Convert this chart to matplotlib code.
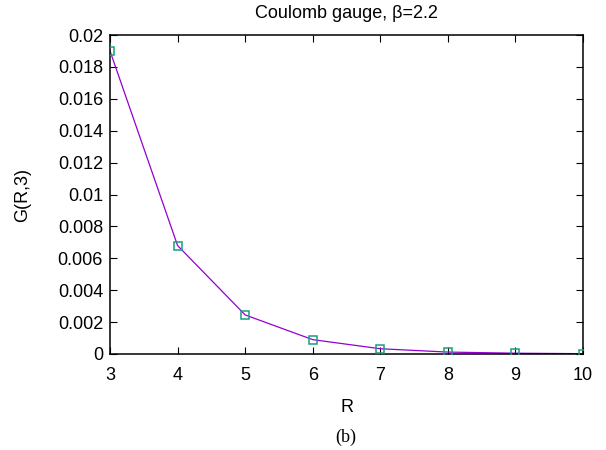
import numpy as np
import matplotlib
matplotlib.use("Agg")
import matplotlib.pyplot as plt

plt.rcParams['font.family'] = ['Liberation Sans', 'DejaVu Sans']

R = [3, 4, 5, 6, 7, 8, 9, 10]
G = [0.019, 0.0068, 0.00245, 0.0009, 0.00033, 0.00012, 0.00005, 0.00002]

fig = plt.figure(figsize=(6.06, 4.5), dpi=100)
ax = fig.add_axes([110/606, 1 - 354/450, (583-110)/606, (354-35)/450])

ax.plot(R, G, color='#9400d3', lw=0.9, zorder=2)
ax.plot(R, G, ls='none', marker='s', ms=6, mfc='none', mec='#1a9e80', mew=1.1, zorder=3)

ax.set_xlim(3, 10)
ax.set_ylim(0, 0.02)
ax.set_xticks(range(3, 11))
ax.set_yticks(np.arange(0, 0.0201, 0.002))
ax.set_yticklabels(['0', '0.002', '0.004', '0.006', '0.008', '0.01', '0.012',
                    '0.014', '0.016', '0.018', '0.02'])
ax.tick_params(direction='in', top=True, right=True, length=5, width=0.8,
               labelsize=13)
ax.tick_params(axis='x', pad=9)
ax.tick_params(axis='y', pad=5)
for s in ax.spines.values():
    s.set_linewidth(1.1)

ax.set_title('Coulomb gauge, β=2.2', fontsize=13, pad=12)
ax.set_xlabel('R', fontsize=13, labelpad=11)
ax.set_ylabel('G(R,3)', fontsize=13)
ax.yaxis.set_label_coords(-0.166, 0.5)
fig.text(346/606, 1 - 437/450, '(b)', ha='center', va='center', fontsize=13,
         family='Liberation Serif')

fig.savefig('out.png', dpi=100)
